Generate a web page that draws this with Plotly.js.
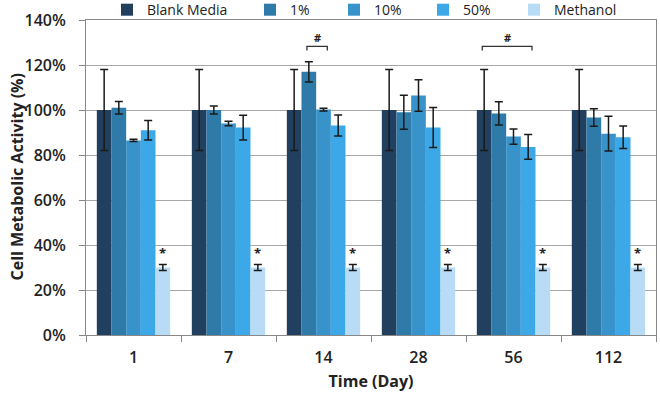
<!DOCTYPE html>
<html>
<head>
<meta charset="utf-8">
<script src="https://cdn.plot.ly/plotly-3.0.1.min.js"></script>
<style>html,body{margin:0;padding:0;background:#fff;}#chart{width:660px;height:404px;}</style>
</head>
<body>
<div id="chart"></div>
<script>
// ---- data ----
var days = ['1', '7', '14', '28', '56', '112'];
var seriesNames = ['Blank Media', '1%', '10%', '50%', 'Methanol'];
var blankMedia = [100, 100, 100, 100, 100, 100];
var blankMediaErr = [18, 18, 18, 18, 18, 18];
var pct1 = [101, 100, 117, 99, 98.5, 96.7];
var pct1Err = [2.8, 1.8, 4.5, 7.6, 5.2, 3.9];
var pct10 = [86.5, 94, 100.2, 106.5, 88.2, 89.5];
var pct10Err = [0.5, 1, 0.6, 7, 3.4, 7.7];
var pct50 = [91, 92.2, 93.1, 92.2, 83.6, 87.9];
var pct50Err = [4.3, 5.5, 4.7, 8.9, 5.5, 5];
var methanol = [30, 30, 30, 30, 30, 30];
var methanolErr = [1.3, 1.3, 1.3, 1.3, 1.3, 1.3];
var yTickVals = [0, 20, 40, 60, 80, 100, 120, 140];
var yTickText = ['0%', '20%', '40%', '60%', '80%', '100%', '120%', '140%'];
var yTitle = 'Cell Metabolic Activity (%)';
var xTitle = 'Time (Day)';
// significance brackets: day, first series index, last series index
var sigDays = ['14', '56'];
var sigFrom = [1, 0];
var sigTo = [2, 3];

var values = [blankMedia, pct1, pct10, pct50, methanol];
var errors = [blankMediaErr, pct1Err, pct10Err, pct50Err, methanolErr];
var colors = ['#213f5e', '#2e7aa8', '#3893cb', '#3ca8e8', '#b8dcf5'];
var legendTextX = [149, 292, 376, 465, 556];

var FONT = 'Open Sans, Liberation Sans, sans-serif';
var bargap = 0.228;
var nSeries = seriesNames.length;
var barW = (1 - bargap) / nSeries;
var M = {l: 86, r: 4, t: 20, b: 69};
var plotW = 660 - M.l - M.r;

var traces = [];
var layoutLegends = {};
for (var s = 0; s < nSeries; s++) {
  var lk = s === 0 ? 'legend' : 'legend' + (s + 1);
  traces.push({
    type: 'bar',
    name: seriesNames[s],
    x: days,
    y: values[s],
    marker: {color: colors[s], line: {width: 0}},
    error_y: {type: 'data', array: errors[s], visible: true, color: '#1a1a1a', thickness: 1.5, width: 4},
    legend: lk,
    hoverinfo: 'skip'
  });
  layoutLegends[lk] = {
    xref: 'container', yref: 'container',
    x: (legendTextX[s] - 42) / 660, xanchor: 'left',
    y: 0.975, yanchor: 'middle',
    orientation: 'h',
    bgcolor: 'rgba(0,0,0,0)', borderwidth: 0,
    font: {family: FONT, size: 14, color: '#222'},
    itemwidth: 30
  };
}

function barCenter(dayIdx, sIdx) {
  return dayIdx + (sIdx - (nSeries - 1) / 2) * barW;
}

var annotations = [];
var shapes = [];
// y-axis title
annotations.push({
  xref: 'paper', yref: 'paper', x: (16 - M.l) / plotW, y: 0.5,
  xanchor: 'center', yanchor: 'middle', textangle: -90, showarrow: false,
  text: yTitle, font: {family: FONT, size: 16, color: '#222', weight: 700}
});
// stars over Methanol bars
for (var d = 0; d < days.length; d++) {
  annotations.push({
    x: barCenter(d, 4), y: methanol[d] + methanolErr[d],
    xref: 'x', yref: 'y', text: '*', showarrow: false,
    yanchor: 'bottom', yshift: 1,
    font: {family: FONT, size: 13, color: '#222', weight: 700}
  });
}
// significance brackets
for (var k = 0; k < sigDays.length; k++) {
  var di = days.indexOf(sigDays[k]);
  var xa = barCenter(di, sigFrom[k]) - 0.02;
  var xb = barCenter(di, sigTo[k]) + 0.04;
  var yTop = 128.3, yEnd = 126.5;
  shapes.push({
    type: 'path', xref: 'x', yref: 'y',
    path: 'M ' + xa + ' ' + yEnd + ' L ' + xa + ' ' + yTop + ' L ' + xb + ' ' + yTop + ' L ' + xb + ' ' + yEnd,
    line: {color: '#333', width: 1.3}
  });
  annotations.push({
    x: (xa + xb) / 2, y: yTop, xref: 'x', yref: 'y', text: '#', showarrow: false,
    yanchor: 'bottom', yshift: -1,
    font: {family: FONT, size: 11, color: '#222', weight: 700}
  });
}

var layout = Object.assign({
  width: 660, height: 404,
  margin: {l: M.l, r: M.r, t: M.t, b: M.b, pad: 0, autoexpand: false},
  paper_bgcolor: '#fff', plot_bgcolor: '#fff',
  barmode: 'group', bargap: bargap, bargroupgap: 0,
  showlegend: true,
  font: {family: FONT, color: '#222'},
  xaxis: {
    type: 'category',
    tickson: 'boundaries',
    ticks: 'outside', ticklen: 6, tickcolor: '#888', tickwidth: 1,
    showline: true, linecolor: '#888', linewidth: 1, mirror: true,
    showgrid: false,
    tickfont: {family: FONT, size: 16, color: '#222', weight: 600},
    ticklabelstandoff: 8,
    title: {text: xTitle, font: {family: FONT, size: 16, color: '#222', weight: 700}, standoff: 8},
    automargin: false
  },
  yaxis: {
    range: [0, 140],
    tickmode: 'array',
    tickvals: yTickVals,
    ticktext: yTickText,
    ticks: 'outside', ticklen: 6, tickcolor: '#888', tickwidth: 1,
    showline: true, linecolor: '#888', linewidth: 1, mirror: true,
    showgrid: true, gridcolor: '#a8a8a8', gridwidth: 1,
    zeroline: false,
    tickfont: {family: FONT, size: 16, color: '#222', weight: 600},
    ticklabelstandoff: 10,
    automargin: false
  },
  annotations: annotations,
  shapes: shapes
}, layoutLegends);

Plotly.newPlot('chart', traces, layout, {staticPlot: true, displayModeBar: false});
</script>
</body>
</html>
